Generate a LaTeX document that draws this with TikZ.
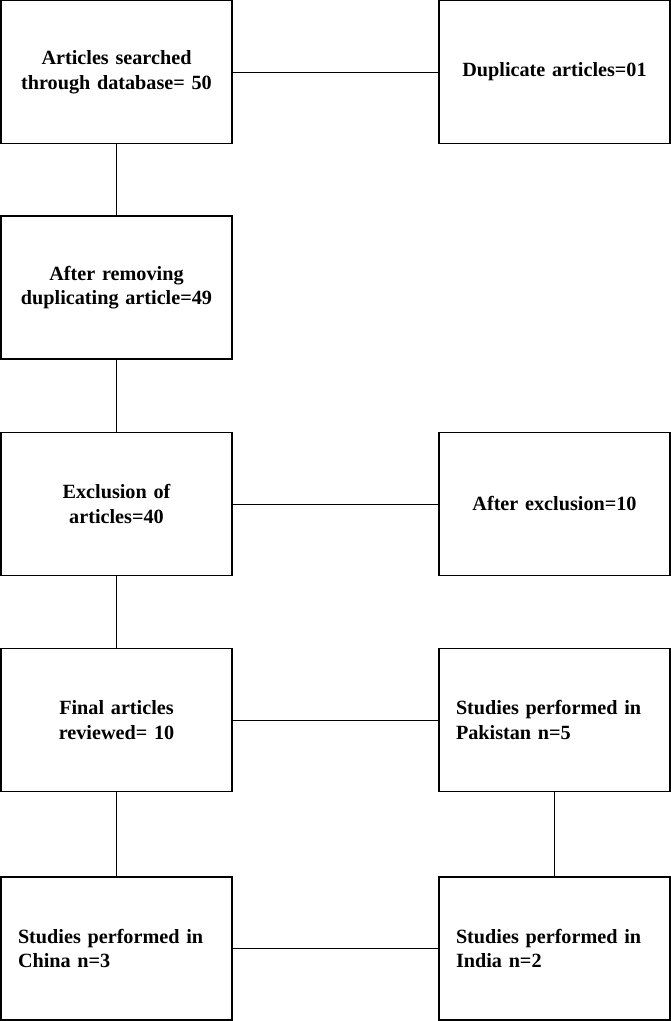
\documentclass[tikz,border=0pt]{standalone}
\usepackage{fontspec}
\setmainfont{Liberation Serif}
\begin{document}
\begin{tikzpicture}[x=1pt,y=1pt,
  box/.style={draw=black, line width=1.3pt, minimum width=231pt, minimum height=143pt,
    text width=197pt, inner xsep=17pt, inner ysep=0pt, font=\fontsize{20.2}{24.5}\selectfont\bfseries},
  cbox/.style={box, align=center},
  lbox/.style={box, align=left},
  link/.style={draw=black, line width=1pt}]
\useasboundingbox (0,0) rectangle (671,-1021);
\node[cbox] (a1) at (116.5,-72) {Articles searched\\through database= 50};
\node[cbox] (d1) at (554.5,-72) {Duplicate articles=01};
\node[cbox] (a2) at (116.5,-287.5) {After removing\\duplicating article=49};
\node[cbox] (a3) at (116.5,-504) {Exclusion of\\articles=40};
\node[cbox] (d3) at (554.5,-504) {After exclusion=10};
\node[cbox] (a4) at (116.5,-720) {Final articles\\reviewed= 10};
\node[lbox] (d4) at (554.5,-720) {Studies performed in\\Pakistan n=5};
\node[lbox] (a5) at (116.5,-948.5) {Studies performed in\\China n=3};
\node[lbox] (d5) at (554.5,-948.5) {Studies performed in\\India n=2};
\draw[link] (a1.east) -- (d1.west);
\draw[link] (a1.south) -- (a2.north);
\draw[link] (a2.south) -- (a3.north);
\draw[link] (a3.east) -- (d3.west);
\draw[link] (a3.south) -- (a4.north);
\draw[link] (a4.east) -- (d4.west);
\draw[link] (a4.south) -- (a5.north);
\draw[link] (d4.south) -- (d5.north);
\draw[link] (a5.east) -- (d5.west);
\end{tikzpicture}
\end{document}
